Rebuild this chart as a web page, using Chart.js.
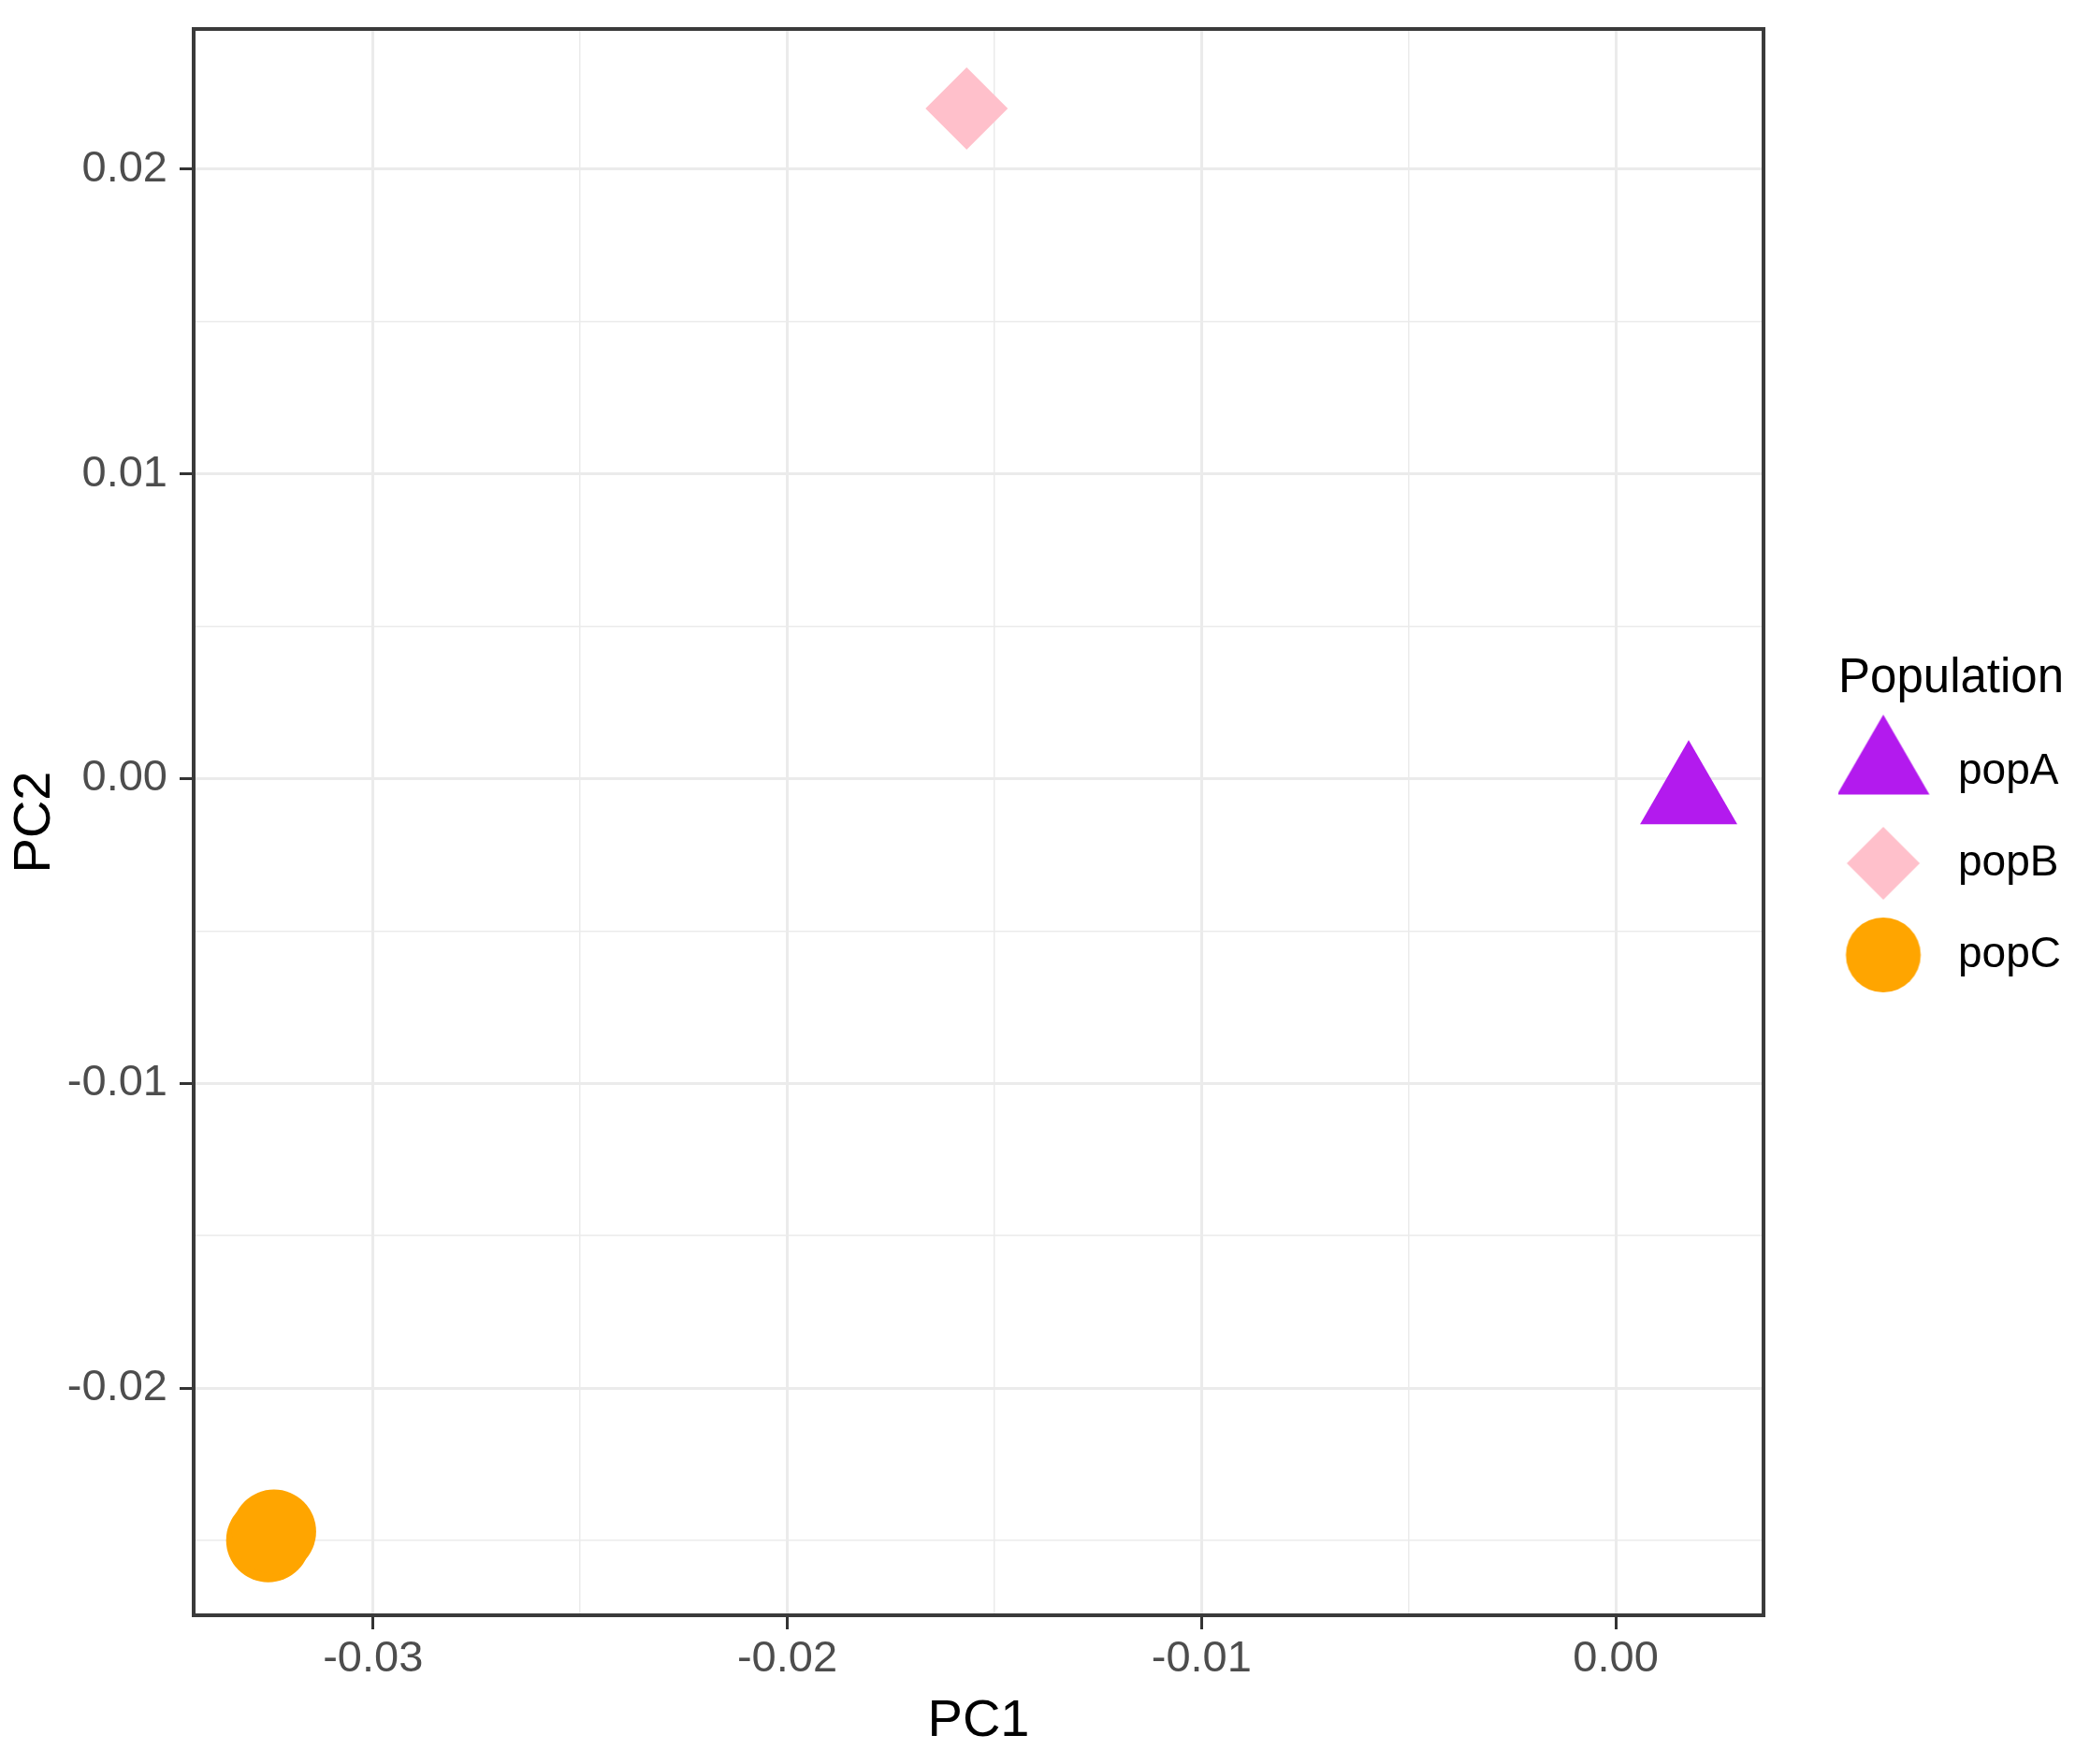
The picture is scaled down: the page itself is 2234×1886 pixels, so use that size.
<!DOCTYPE html>
<html lang="en">
<head>
    <meta charset="UTF-8">
    <title>PCA plot</title>
    <style>
        html, body {
            margin: 0;
            padding: 0;
            background: #ffffff;
        }
        #wrap {
            width: 2234px;
            height: 1886px;
        }
    </style>
</head>
<body>
    <div id="wrap"><canvas id="chart"></canvas></div>
    <script src="https://cdn.jsdelivr.net/npm/chart.js"></script>
    <script>
        // data
        const populations = ['popA', 'popB', 'popC'];
        const popAPC1 = [0.00176];
        const popAPC2 = [-0.00058];
        const popBPC1 = [-0.01567];
        const popBPC2 = [0.02199];
        const popCPC1 = [-0.03253, -0.03239];
        const popCPC2 = [-0.02499, -0.02471];

        const xTicks = [-0.03, -0.02, -0.01, 0.00];
        const xTickLabels = ['-0.03', '-0.02', '-0.01', '0.00'];
        const xMinor = [-0.025, -0.015, -0.005];
        const yTicks = [-0.02, -0.01, 0.00, 0.01, 0.02];
        const yTickLabels = ['-0.02', '-0.01', '0.00', '0.01', '0.02'];
        const yMinor = [-0.025, -0.015, -0.005, 0.005, 0.015];

        const colors = ['#B31AEE', '#FFC0CB', '#FFA500'];
        const shapes = ['triangle', 'rectRot', 'circle'];
        const sizes = [60, 44, 45];
        const legendSizes = [57, 39, 40];
        const legendLift = [4, 0, 0];

        const FONT = "'Liberation Sans', Arial, sans-serif";

        function toPoints(xs, ys) {
            return xs.map((x, i) => ({x: x, y: ys[i]}));
        }
        const series = [toPoints(popAPC1, popAPC2), toPoints(popBPC1, popBPC2), toPoints(popCPC1, popCPC2)];

        // legend symbols, drawn once with the library helper
        function makeIcon(i) {
            const c = document.createElement('canvas');
            c.width = 180;
            c.height = 130;
            const g = c.getContext('2d');
            g.fillStyle = colors[i];
            const opts = {pointStyle: shapes[i], radius: legendSizes[i], rotation: 0, borderWidth: 0};
            if (Chart.helpers && Chart.helpers.drawPoint) {
                Chart.helpers.drawPoint(g, opts, 59.5, 65 - legendLift[i]);
            }
            return c;
        }
        const legendIcons = populations.map((p, i) => makeIcon(i));

        function tickList(major, minor) {
            return major.map(v => ({value: v, major: true}))
                .concat(minor.map(v => ({value: v, major: false})))
                .sort((a, b) => a.value - b.value);
        }
        function isMajor(ctx) {
            return ctx.tick && ctx.tick.major;
        }

        const gridOpts = {
            color: '#EBEBEB',
            lineWidth: ctx => isMajor(ctx) ? 3 : 1.5,
            tickColor: ctx => isMajor(ctx) ? '#333333' : 'rgba(0,0,0,0)',
            tickWidth: 3,
            tickLength: 15
        };

        const panelBorder = {
            id: 'panelBorder',
            afterDatasetsDraw(chart) {
                const a = chart.chartArea;
                const c = chart.ctx;
                c.save();
                c.strokeStyle = '#3a3a3a';
                c.lineWidth = 4;
                c.strokeRect(a.left, a.top, a.right - a.left, a.bottom - a.top);
                c.restore();
            }
        };

        const ctx = document.getElementById('chart').getContext('2d');
        const chart = new Chart(ctx, {
            type: 'scatter',
            data: {
                datasets: populations.map((p, i) => ({
                    label: p,
                    data: series[i],
                    pointStyle: shapes[i],
                    pointRadius: sizes[i],
                    pointHoverRadius: sizes[i],
                    backgroundColor: colors[i],
                    borderColor: colors[i],
                    borderWidth: 0,
                    pointBorderWidth: 0
                }))
            },
            options: {
                responsive: true,
                maintainAspectRatio: false,
                animation: false,
                events: [],
                layout: {
                    autoPadding: false,
                    padding: {top: 31, right: 21, bottom: 0, left: 0}
                },
                scales: {
                    x: {
                        type: 'linear',
                        min: -0.03433,
                        max: 0.003567,
                        afterBuildTicks: s => { s.ticks = tickList(xTicks, xMinor); },
                        afterFit: s => { s.height = 159; },
                        grid: gridOpts,
                        border: {display: false},
                        ticks: {
                            autoSkip: false,
                            maxRotation: 0,
                            padding: 4,
                            color: '#4D4D4D',
                            font: {family: FONT, size: 47},
                            callback: v => {
                                const k = xTicks.findIndex(t => Math.abs(t - v) < 1e-9);
                                return k >= 0 ? xTickLabels[k] : '';
                            }
                        },
                        title: {
                            display: true,
                            text: 'PC1',
                            color: '#000000',
                            font: {family: FONT, size: 56, lineHeight: 1.2},
                            padding: {top: 0, bottom: 12}
                        }
                    },
                    y: {
                        type: 'linear',
                        min: -0.027456,
                        max: 0.0246,
                        afterBuildTicks: s => { s.ticks = tickList(yTicks, yMinor); },
                        afterFit: s => {
                            s.width = 207;
                            // labels sit well inside the panel, no extra room needed
                            s.paddingTop = 0;
                            s.paddingBottom = 0;
                        },
                        grid: gridOpts,
                        border: {display: false},
                        ticks: {
                            autoSkip: false,
                            padding: 13,
                            color: '#4D4D4D',
                            font: {family: FONT, size: 47},
                            callback: v => {
                                const k = yTicks.findIndex(t => Math.abs(t - v) < 1e-9);
                                return k >= 0 ? yTickLabels[k] : '';
                            }
                        },
                        title: {
                            display: true,
                            text: 'PC2',
                            color: '#000000',
                            font: {family: FONT, size: 56, lineHeight: 1.2},
                            padding: {top: 4, bottom: 0}
                        }
                    },
                    gap: {
                        type: 'linear',
                        position: 'right',
                        min: 0,
                        max: 1,
                        afterFit: s => {
                            s.width = 80;
                            s.paddingTop = 0;
                            s.paddingBottom = 0;
                        },
                        grid: {display: false},
                        border: {display: false},
                        ticks: {display: false}
                    }
                },
                plugins: {
                    tooltip: {enabled: false},
                    legend: {
                        position: 'right',
                        align: 'center',
                        fullSize: false,
                        title: {
                            display: true,
                            text: 'Population',
                            position: 'start',
                            color: '#000000',
                            font: {family: FONT, size: 51, lineHeight: 0.9},
                            padding: {top: 38.5, bottom: 3.6}
                        },
                        labels: {
                            usePointStyle: true,
                            pointStyleWidth: 53,
                            padding: 52,
                            color: '#000000',
                            font: {family: FONT, size: 46},
                            generateLabels: c => {
                                const items = Chart.defaults.plugins.legend.labels.generateLabels(c);
                                items.forEach((it, i) => {
                                    if (Chart.helpers && Chart.helpers.drawPoint) {
                                        it.pointStyle = legendIcons[i];
                                    }
                                    it.lineWidth = 0;
                                });
                                return items;
                            }
                        }
                    }
                }
            },
            plugins: [panelBorder]
        });
    </script>
</body>
</html>
